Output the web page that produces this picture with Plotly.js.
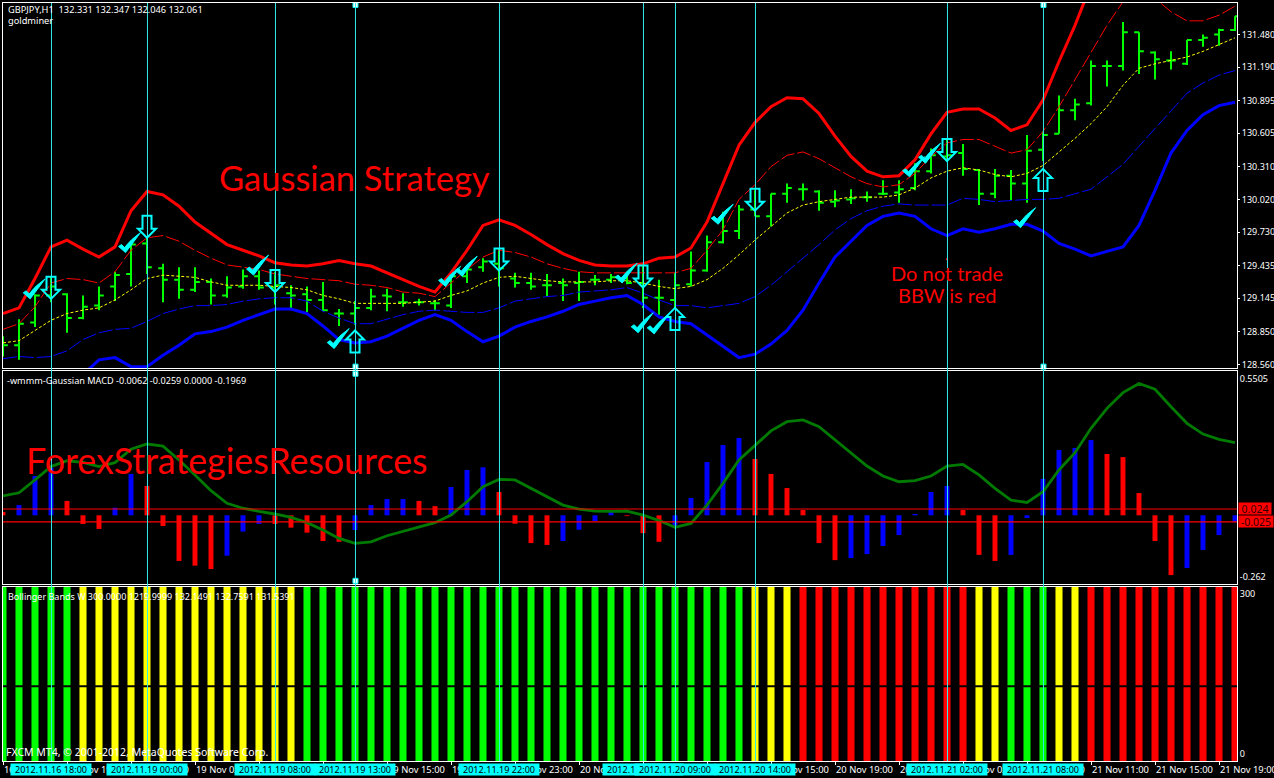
<!DOCTYPE html>
<html><head><meta charset="utf-8">
<script src="https://cdn.plot.ly/plotly-3.0.1.min.js"></script>
<style>html,body{margin:0;padding:0;background:#000;overflow:hidden}#c{width:1274px;height:778px}</style>
</head><body><div id="c"></div>
<script>
// ---------- data ----------
const barIndex = [0,1,2,3,4,5,6,7,8,9,10,11,12,13,14,15,16,17,18,19,20,21,22,23,24,25,26,27,28,29,30,31,32,33,34,35,36,37,38,39,40,41,42,43,44,45,46,47,48,49,50,51,52,53,54,55,56,57,58,59,60,61,62,63,64,65,66,67,68,69,70,71,72,73,74,75,76,77];
const openP = [128.73,128.73,128.93,129.17,129.18,128.97,129.08,129.25,129.36,129.63,129.41,129.31,129.22,129.29,129.17,129.25,129.34,129.24,129.19,129.18,129.13,129.01,129.01,129.06,129.17,129.11,129.11,129.10,129.08,129.34,129.42,129.45,129.32,129.28,129.26,129.28,129.28,129.31,129.31,129.33,129.28,129.15,129.13,129.27,129.39,129.64,129.74,129.93,129.87,130.07,130.11,130.09,130.00,130.02,130.04,130.07,130.08,130.12,130.27,130.40,130.43,130.28,130.07,130.23,130.16,130.46,130.60,130.81,130.87,131.20,131.20,131.50,131.32,131.25,131.22,131.43,131.48,131.52];
const highP = [128.81,128.96,129.18,129.34,129.19,129.17,129.25,129.38,129.62,129.68,129.45,129.42,129.42,129.32,129.34,129.40,129.39,129.38,129.26,129.25,129.29,129.05,129.12,129.23,129.23,129.19,129.14,129.13,129.37,129.41,129.50,129.59,129.37,129.37,129.36,129.32,129.38,129.35,129.36,129.38,129.44,129.31,129.37,129.56,129.70,129.91,129.97,130.10,130.07,130.16,130.16,130.10,130.10,130.11,130.09,130.19,130.19,130.34,130.47,130.56,130.51,130.29,130.29,130.28,130.59,130.62,130.94,130.91,131.25,131.25,131.59,131.50,131.33,131.33,131.43,131.48,131.53,131.64];
const lowP = [128.63,128.60,128.89,129.11,128.84,128.96,129.04,129.12,129.25,129.36,129.11,129.14,129.20,129.09,129.15,129.23,129.22,129.09,129.06,129.02,129.03,128.90,128.91,129.04,129.03,129.07,129.08,129.04,129.06,129.28,129.38,129.25,129.24,129.22,129.16,129.12,129.12,129.26,129.28,129.27,129.06,129.00,129.06,129.25,129.38,129.63,129.67,129.87,129.78,129.99,130.01,129.92,129.95,129.98,130.00,130.06,129.99,130.10,130.25,130.37,130.23,129.97,130.03,130.01,129.99,130.36,130.60,130.72,130.85,131.02,131.16,131.13,131.08,131.17,131.21,131.37,131.38,131.51];
const closeP = [128.73,128.92,129.17,129.25,128.97,129.07,129.17,129.35,129.62,129.42,129.31,129.22,129.29,129.17,129.24,129.34,129.24,129.26,129.17,129.13,129.04,129.01,129.06,129.16,129.16,129.11,129.11,129.10,129.34,129.40,129.47,129.41,129.28,129.25,129.26,129.26,129.29,129.31,129.33,129.28,129.15,129.15,129.26,129.39,129.64,129.74,129.93,129.87,130.07,130.12,130.11,129.99,130.01,130.03,130.04,130.07,130.11,130.27,130.41,130.41,130.29,130.07,130.23,130.16,130.45,130.59,130.81,130.86,131.20,131.20,131.50,131.33,131.26,131.25,131.43,131.45,131.52,131.64];

const upperThick = [129.01,129.06,129.32,129.60,129.66,129.58,129.51,129.60,129.92,130.09,130.06,129.96,129.82,129.72,129.62,129.57,129.52,129.46,129.44,129.43,129.45,129.48,129.45,129.43,129.37,129.31,129.25,129.20,129.37,129.57,129.79,129.84,129.79,129.71,129.62,129.54,129.48,129.44,129.43,129.43,129.45,129.50,129.51,129.59,129.82,130.16,130.50,130.70,130.84,130.92,130.91,130.78,130.58,130.40,130.27,130.22,130.23,130.37,130.60,130.79,130.82,130.82,130.74,130.63,130.68,130.90,131.24,131.56,131.92];
const lowerThickFrom5 = [128.47,128.60,128.62,128.54,128.54,128.64,128.73,128.83,128.85,128.89,128.95,129.00,129.05,129.05,129.01,128.90,128.78,128.75,128.76,128.81,128.88,128.95,129.00,128.95,128.85,128.76,128.81,128.89,128.94,128.98,129.03,129.09,129.12,129.15,129.17,129.09,128.98,128.94,128.92,128.82,128.72,128.62,128.65,128.74,128.86,129.04,129.28,129.51,129.65,129.79,129.87,129.90,129.87,129.76,129.70,129.76,129.73,129.76,129.80,129.80,129.74,129.63,129.58,129.52,129.56,129.60,129.79,130.10,130.43,130.63,130.77,130.85,130.88];
const upperThin = [128.87,128.92,129.07,129.28,129.32,129.31,129.28,129.38,129.57,129.68,129.70,129.65,129.57,129.50,129.44,129.42,129.40,129.36,129.34,129.32,129.31,129.30,129.27,129.26,129.24,129.20,129.19,129.16,129.28,129.40,129.51,129.57,129.55,129.51,129.45,129.41,129.38,129.37,129.37,129.37,129.37,129.37,129.37,129.41,129.57,129.75,130.02,130.15,130.31,130.41,130.44,130.38,130.30,130.22,130.16,130.13,130.15,130.25,130.40,130.52,130.55,130.55,130.49,130.43,130.46,130.62,130.84,131.08,131.31,131.56,131.77,131.96,131.80,131.68,131.60,131.60,131.65,131.73];
const lowerThin = [128.61,128.63,128.62,128.63,128.68,128.78,128.84,128.87,128.88,128.94,129.01,129.05,129.08,129.08,129.09,129.12,129.14,129.15,129.15,129.12,129.03,128.97,128.92,128.92,128.96,129.00,129.03,129.04,129.03,129.02,129.02,129.06,129.12,129.14,129.16,129.17,129.20,129.21,129.22,129.24,129.19,129.13,129.08,129.08,129.06,129.08,129.10,129.16,129.26,129.38,129.50,129.62,129.75,129.85,129.92,129.96,129.98,129.97,129.97,129.97,130.03,130.02,130.00,130.01,130.02,130.02,130.03,130.07,130.11,130.22,130.33,130.49,130.65,130.81,130.96,131.05,131.12,131.16];
const midLine = [128.75,128.77,128.86,128.95,129.01,129.04,129.06,129.13,129.22,129.32,129.35,129.34,129.33,129.29,129.26,129.26,129.26,129.25,129.24,129.22,129.17,129.14,129.10,129.10,129.10,129.10,129.11,129.12,129.17,129.21,129.28,129.33,129.34,129.32,129.30,129.29,129.29,129.29,129.30,129.30,129.28,129.25,129.23,129.25,129.31,129.41,129.53,129.66,129.78,129.90,129.97,130.00,130.02,130.04,130.04,130.04,130.06,130.12,130.21,130.27,130.30,130.28,130.24,130.22,130.25,130.32,130.44,130.56,130.69,130.84,131.03,131.18,131.22,131.25,131.28,131.33,131.39,131.45];

const macdHist = [.013,.039,.150,.182,.055,-.033,-.052,.029,.158,.112,-.041,-.174,-.192,-.205,-.154,-.062,-.033,-.033,-.047,-.066,-.098,-.101,-.056,.039,.062,.062,.055,.035,.108,.173,.183,.089,-.032,-.106,-.113,-.098,-.055,-.022,.014,-.003,-.068,-.101,-.043,.066,.203,.268,.295,.215,.158,.104,.020,-.106,-.171,-.163,-.148,-.117,-.075,.005,.089,.112,.020,-.151,-.174,-.151,-.010,.139,.249,.257,.287,.234,.222,.085,-.098,-.228,-.201,-.132,-.075,-.026];
const macdBlueBars = [1,2,3,7,8,14,15,16,22,23,24,25,28,29,30,35,36,37,38,42,43,44,45,46,53,54,55,56,57,58,59,63,64,65,66,67,68,74,75,76,77];
const macdSignal = [.074,.086,.135,.186,.208,.202,.186,.201,.252,.272,.264,.211,.154,.094,.046,.027,.015,.005,-.008,-.028,-.056,-.088,-.107,-.101,-.078,-.061,-.043,-.028,.001,.052,.109,.137,.135,.103,.071,.039,.024,.016,.015,.016,.001,-.020,-.046,-.031,.039,.122,.211,.268,.322,.357,.364,.338,.287,.236,.188,.150,.128,.132,.150,.188,.194,.154,.103,.058,.049,.090,.173,.239,.332,.408,.468,.503,.481,.414,.351,.310,.290,.277];
const macdLevels = [0.024,-0.025];
const macdLevelLabels = ["0.024","-0.025"];

const bbwKind = "GGGGGYYYYYYYYYYYYYYGGGGGGGGGGGGGGGGGGGGGGGGGGGGYYYRRRRRRRRRRRYYGGGYYRRRRRRRRRR";
const bbwHeight = 300;
const bbwLevel = 129;

const signalBars = [3,9,17,22,31,40,42,47,59,65];
const signalTimes = ["2012.11.16 18:00","2012.11.19 00:00","2012.11.19 08:00","2012.11.19 13:00","2012.11.19 22:00","2012.11.20 07:00","2012.11.20 09:00","2012.11.20 14:00","2012.11.21 02:00","2012.11.21 08:00"];
const downArrowBars = [3,9,17,31,40,47,59];
const downArrowPrices = [129.14,129.68,129.20,129.39,129.24,129.92,130.36];
const upArrowBars = [22,42,65];
const upArrowPrices = [128.86,129.06,130.29];
const checkBars = [1.7,7.66,15.66,20.7,27.66,28.7,38.7,39.7,40.7,44.7,56.66,57.66,63.6];
const checkPrices = [129.14,129.55,129.35,128.70,129.25,129.34,129.28,128.84,128.83,129.80,130.22,130.34,129.77];

const priceTicks = [128.56,128.85,129.145,129.435,129.73,130.02,130.31,130.605,130.895,131.19,131.48];
const priceTickLabels = ["128.560","128.850","129.145","129.435","129.730","130.020","130.310","130.605","130.895","131.190","131.480"];
const timeTickBars = [0,4,8,12,16,20,24,28,32,36,40,44,48,52,56,60,64,68,72,76];
const timeTickLabels = ["16 Nov 15:00","16 Nov 19:00","18 Nov 23:00","19 Nov 03:00","19 Nov 07:00","19 Nov 11:00","19 Nov 15:00","19 Nov 19:00","19 Nov 23:00","20 Nov 03:00","20 Nov 07:00","20 Nov 11:00","20 Nov 15:00","20 Nov 19:00","20 Nov 23:00","21 Nov 03:00","21 Nov 07:00","21 Nov 11:00","21 Nov 15:00","21 Nov 19:00"];

// ---------- style ----------
const W=1274,H=778,mL=3,mR=37,mT=3,mB=17;
const px=x=>(x-mL)/(W-mL-mR), py=y=>1-(y-mT)/(H-mT-mB);
const UI='"Noto Sans", sans-serif';
const RED='#ff0000',BLUE='#0000ff',GREEN='#00ff00',YEL='#ffff00',CY='#00ffff',LINE='#30eaea';
const idx=(a,s)=>a.map((_,i)=>i+s);
const panelAxis={showgrid:false,zeroline:false,showline:true,mirror:true,linecolor:'#fff',linewidth:1,color:'#fff',ticklabeloverflow:'allow'};
const xBase=Object.assign({},panelAxis,{range:[0,77.125],type:'linear',rangeslider:{visible:false},fixedrange:true});

const macdRedBars=barIndex.filter(i=>!macdBlueBars.includes(i));
const data=[
 {type:'scatter',mode:'lines',x:idx(upperThin,0),y:upperThin,line:{color:RED,width:1,dash:'14px,3px'},yaxis:'y',xaxis:'x'},
 {type:'scatter',mode:'lines',x:idx(lowerThin,0),y:lowerThin,line:{color:BLUE,width:1,dash:'14px,3px'},yaxis:'y',xaxis:'x'},
 {type:'scatter',mode:'lines',x:idx(midLine,0),y:midLine,line:{color:YEL,width:1,dash:'3px,2px'},yaxis:'y',xaxis:'x'},
 {type:'ohlc',x:barIndex,open:openP,high:highP,low:lowP,close:closeP,tickwidth:0.3,
  increasing:{line:{color:GREEN,width:2}},decreasing:{line:{color:GREEN,width:2}},yaxis:'y',xaxis:'x'},
 {type:'scatter',mode:'lines',x:idx(upperThick,0),y:upperThick,line:{color:RED,width:3},yaxis:'y',xaxis:'x'},
 {type:'scatter',mode:'lines',x:idx(lowerThickFrom5,5),y:lowerThickFrom5,line:{color:BLUE,width:3},yaxis:'y',xaxis:'x'},
 {type:'scatter',mode:'markers',x:[22.03,22.03,65.03,65.03],y:[131.74,128.54,131.74,128.54],marker:{symbol:'square',size:5,color:'#fff',line:{color:CY,width:1}},yaxis:'y',xaxis:'x',cliponaxis:false},
 {type:'scatter',mode:'markers',x:[59],y:[129.49],marker:{symbol:'square',size:2,color:RED},yaxis:'y',xaxis:'x'},

 {type:'bar',x:macdBlueBars,y:macdBlueBars.map(i=>macdHist[i]),width:0.31,marker:{color:BLUE,line:{width:0}},yaxis:'y2',xaxis:'x2'},
 {type:'bar',x:macdRedBars,y:macdRedBars.map(i=>macdHist[i]),width:0.31,marker:{color:RED,line:{width:0}},yaxis:'y2',xaxis:'x2'},
 {type:'scatter',mode:'lines',x:barIndex,y:macdSignal,line:{color:'#007a00',width:2.8},yaxis:'y2',xaxis:'x2'},
 {type:'scatter',mode:'lines',x:[-1,78],y:[macdLevels[0],macdLevels[0]],line:{color:RED,width:1.2},yaxis:'y2',xaxis:'x2'},
 {type:'scatter',mode:'lines',x:[-1,78],y:[macdLevels[1],macdLevels[1]],line:{color:RED,width:1.2},yaxis:'y2',xaxis:'x2'},
 {type:'scatter',mode:'markers',x:[22.03,22.03],y:[0.54,-0.25],marker:{symbol:'square',size:5,color:'#fff',line:{color:CY,width:1}},yaxis:'y2',xaxis:'x2',cliponaxis:false},

 {type:'bar',x:barIndex,y:barIndex.map(()=>bbwHeight),width:0.44,
  marker:{color:barIndex.map(i=>({G:GREEN,Y:YEL,R:RED})[bbwKind[i]]),line:{width:0}},yaxis:'y3',xaxis:'x3'},
 {type:'scatter',mode:'lines',x:[-1,78],y:[bbwLevel,bbwLevel],line:{color:'#000',width:2},yaxis:'y3',xaxis:'x3'}
];

// pixel-sized glyphs anchored on data points (tip or vertex at 0,0, y grows upward)
const downArrowPath='M0,0 L-9,9 L-4.5,9 L-4.5,22 L4.5,22 L4.5,9 L9,9 Z';
const upArrowPath='M0,0 L-9,-9 L-4.5,-9 L-4.5,-22 L4.5,-22 L4.5,-9 L9,-9 Z';
const checkPath='M0,0 L-7,6 L-4,8 L-1,5 Q5,13 15,20 Q7,9 0,0 Z';
const glyph=(path,x,y,o)=>Object.assign({type:'path',path,xsizemode:'pixel',ysizemode:'pixel',xanchor:x,yanchor:y,xref:'x',yref:'y',layer:'above'},o);
const shapes=[];
signalBars.forEach(i=>shapes.push({type:'line',xref:'x',yref:'paper',x0:i+0.03,x1:i+0.03,y0:py(3),y1:py(761),line:{color:LINE,width:1},layer:'above'}));
downArrowBars.forEach((b,k)=>shapes.push(glyph(downArrowPath,b,downArrowPrices[k],{line:{color:CY,width:2},fillcolor:'rgba(0,0,0,0)'})));
upArrowBars.forEach((b,k)=>shapes.push(glyph(upArrowPath,b,upArrowPrices[k],{line:{color:CY,width:2},fillcolor:'rgba(0,0,0,0)'})));
checkBars.forEach((b,k)=>shapes.push(glyph(checkPath,b,checkPrices[k],{line:{color:CY,width:1},fillcolor:CY})));

const note=(text,x,y,size,color,fam,o)=>Object.assign({text,xref:'paper',yref:'paper',x:px(x),y:py(y),xanchor:'left',yanchor:'middle',showarrow:false,
  borderpad:0,font:{family:fam||UI,size,color}},o);
const annotations=[
 note('GBPJPY,H1  132.331 132.347 132.046 132.061',7,10,9.25,'#fff'),
 note('goldminer',7,20,9.25,'#fff'),
 note('-wmmm-Gaussian MACD -0.0062 -0.0259 0.0000 -0.1969',6,380,9.15,'#fff'),
 note('Bollinger Bands W 300.0000 1219.9999 132.1491 132.7591 131.5391',7,596,9,'#fff'),
 note('FXCM MT4, © 2001-2012, MetaQuotes Software Corp.',5,752,10.5,'#fff'),
 note('Gaussian Strategy',218,178,34.5,RED,'Lato, sans-serif'),
 note('ForexStrategiesResources',25,460,35.8,RED,'Lato, sans-serif'),
 note('Do not trade',890,273,20,RED,'Lato, sans-serif'),
 note('BBW is red',897,295,20,RED,'Lato, sans-serif'),
 note(macdLevelLabels[0],1238,508.5,10.5,'#300',UI,{bgcolor:RED,width:32,height:11,align:'center'}),
 note(macdLevelLabels[1],1238,521.5,10.5,'#300',UI,{bgcolor:RED,width:34,height:11,align:'center'})
];
signalBars.forEach((b,k)=>annotations.push({text:signalTimes[k],xref:'x',yref:'paper',x:b,y:py(770),xanchor:'center',yanchor:'middle',
  showarrow:false,bgcolor:CY,borderpad:0,width:80,height:11,font:{family:UI,size:9.1,color:'#000'}}));

const yTickFont={family:UI,size:9,color:'#fff'};
const layout={
 width:W,height:H,margin:{l:mL,r:mR,t:mT,b:mB,pad:0},paper_bgcolor:'#000',plot_bgcolor:'#000',showlegend:false,hovermode:false,
 barmode:'overlay',
 xaxis:Object.assign({},xBase,{anchor:'y',showticklabels:false,ticks:''}),
 xaxis2:Object.assign({},xBase,{anchor:'y2',showticklabels:false,ticks:''}),
 xaxis3:Object.assign({},xBase,{anchor:'y3',tickmode:'array',tickvals:timeTickBars,ticktext:timeTickLabels,ticks:'outside',ticklen:3,tickcolor:'#fff',tickangle:0,
   ticklabelposition:'outside right',tickfont:{family:UI,size:9.4,color:'#fff'}}),
 yaxis:Object.assign({},panelAxis,{domain:[py(368),py(3)],range:[128.528,131.758],side:'right',anchor:'x',tickmode:'array',tickvals:priceTicks,ticktext:priceTickLabels,ticks:'outside',ticklen:2,tickcolor:'#fff',tickfont:yTickFont,fixedrange:true}),
 yaxis2:Object.assign({},panelAxis,{domain:[py(584),py(371)],range:[-0.262,0.5505],side:'right',anchor:'x2',tickmode:'array',tickvals:[0.52,-0.235],ticktext:['0.5505','-0.262'],ticks:'',tickfont:yTickFont,fixedrange:true}),
 yaxis3:Object.assign({},panelAxis,{domain:[py(761),py(587)],range:[0,300],side:'right',anchor:'x3',tickmode:'array',tickvals:[288,12],ticktext:['300','0'],ticks:'',tickfont:yTickFont,fixedrange:true}),
 shapes,annotations
};
Plotly.newPlot('c',data,layout,{staticPlot:true,displayModeBar:false});
</script></body></html>
